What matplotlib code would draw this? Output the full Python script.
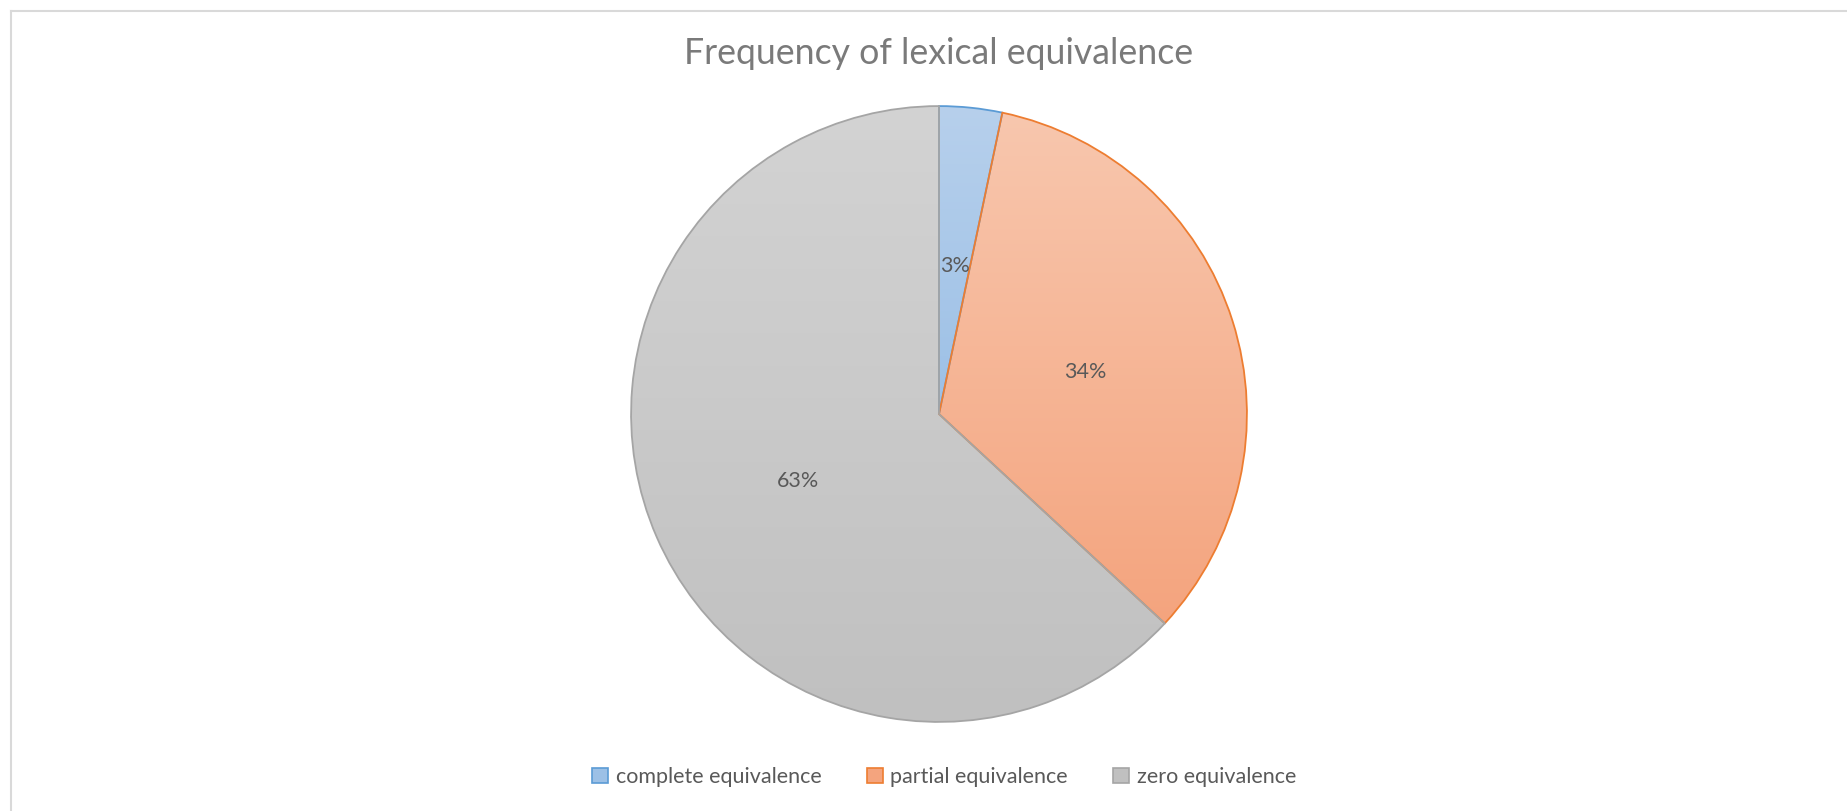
import numpy as np
import matplotlib
matplotlib.use('Agg')
import matplotlib.pyplot as plt
from matplotlib.patches import Patch
from matplotlib.lines import Line2D
from matplotlib.colors import LinearSegmentedColormap

categories = ['complete equivalence', 'partial equivalence', 'zero equivalence']
values = [3.3, 33.6, 63.1]
pct_labels = ['3%', '34%', '63%']

# top / bottom gradient colours and edges, Office style
top_colors = ['#b7d0ec', '#f8c7ae', '#d3d3d3']
bottom_colors = ['#9cc0e6', '#f4a47e', '#c0c0c0']
edge_colors = ['#5b9bd5', '#ed7d31', '#a5a5a5']

W, H = 1847, 811


def main():
    plt.rcParams['font.family'] = ['Lato', 'DejaVu Sans']
    fig = plt.figure(figsize=(W / 100, H / 100), dpi=100)

    # chart area border (only top and left visible in the crop)
    fig.add_artist(Line2D([10.5 / W, 10.5 / W], [0, 1 - 10.5 / H], color='#d9d9d9', lw=1.5))
    fig.add_artist(Line2D([10.5 / W, 1], [1 - 10.5 / H, 1 - 10.5 / H], color='#d9d9d9', lw=1.5))

    cx, cy, r = 939, 414, 311
    ax = fig.add_axes([(cx - r) / W, (H - cy - r) / H, 2 * r / W, 2 * r / H])

    wedges, texts, autotexts = ax.pie(
        values, startangle=90, counterclock=False, radius=1,
        autopct='%1.0f%%', pctdistance=0.5,
        wedgeprops=dict(linewidth=1.3),
        textprops=dict(fontsize=15.5, color='#595959'))

    grad = np.linspace(0, 1, 256).reshape(-1, 1)
    for i, w in enumerate(wedges):
        w.set_facecolor('none')
        w.set_edgecolor(edge_colors[i])
        w.set_zorder(3)
        bb = w.get_path().get_extents(w.get_patch_transform())
        cmap = LinearSegmentedColormap.from_list('g%d' % i, [bottom_colors[i], top_colors[i]])
        im = ax.imshow(grad, cmap=cmap, origin='lower', aspect='auto',
                       extent=[bb.x0, bb.x1, bb.y0, bb.y1], zorder=2)
        im.set_clip_path(w)

    for t, lab in zip(autotexts, pct_labels):
        t.set_text(lab)
        x, y = t.get_position()
        t.set_position((x, y - 0.016))
        t.set_zorder(5)

    ax.set_xlim(-1.01, 1.01)
    ax.set_ylim(-1.01, 1.01)
    ax.set_aspect('equal')
    ax.axis('off')

    fig.text(cx / W, 1 - 54 / H, 'Frequency of lexical equivalence',
             ha='center', va='center', fontsize=25.7, color='#7a7a7a')

    handles = [Patch(facecolor=bottom_colors[i], edgecolor=edge_colors[i], linewidth=1.2)
               for i in range(len(categories))]
    fig.legend(handles, categories, loc='center', ncol=3,
               bbox_to_anchor=(944 / W, 34 / H), frameon=False,
               fontsize=15.5, labelcolor='#595959',
               handlelength=0.75, handleheight=0.75, handletextpad=0.35, columnspacing=2.1)

    fig.savefig('out.png', dpi=100, facecolor='white')
    plt.close(fig)


if __name__ == "__main__":
    main()
